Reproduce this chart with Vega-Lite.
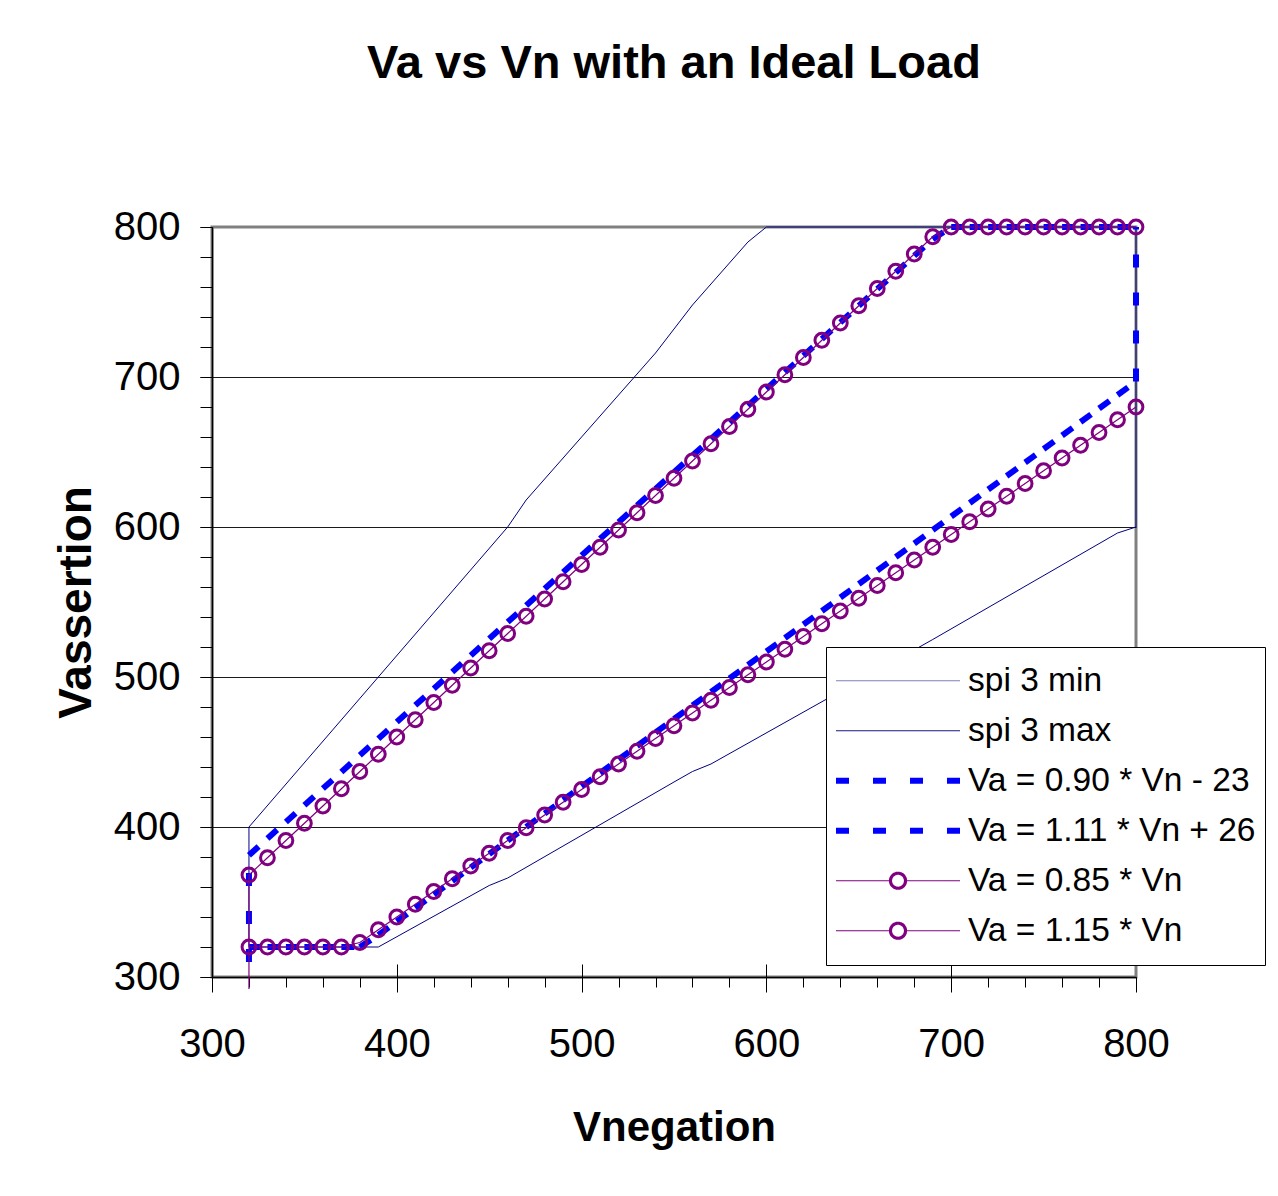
{
  "$schema": "https://vega.github.io/schema/vega-lite/v6.json",
  "autosize": {"type": "none"},
  "padding": {"left": 212, "top": 227, "right": 142, "bottom": 219},
  "width": 924,
  "height": 750,
  "background": "#ffffff",
  "title": {"text": "Va vs Vn with an Ideal Load", "fontSize": 47, "fontWeight": "bold", "anchor": "middle", "offset": 119, "color": "#000000"},
  "config": {
    "font": "Liberation Sans",
    "view": {"fill": "#ffffcc", "stroke": "#808080", "strokeWidth": 3},
    "axis": {"labelColor": "#000000", "titleColor": "#000000", "tickColor": "#000000", "domainColor": "#000000", "labelFlush": false, "labelOverlap": false}
  },
  "datasets": {
    "d": [
      {"series": "spi 3 min", "vn": 320, "va": 320},
      {"series": "spi 3 min", "vn": 390, "va": 320},
      {"series": "spi 3 min", "vn": 450, "va": 361},
      {"series": "spi 3 min", "vn": 460, "va": 366},
      {"series": "spi 3 min", "vn": 550, "va": 430},
      {"series": "spi 3 min", "vn": 560, "va": 437},
      {"series": "spi 3 min", "vn": 570, "va": 442},
      {"series": "spi 3 min", "vn": 690, "va": 525},
      {"series": "spi 3 min", "vn": 790, "va": 596},
      {"series": "spi 3 min", "vn": 800, "va": 600},
      {"series": "spi 3 min", "vn": 800, "va": 800},
      {"series": "spi 3 max", "vn": 320, "va": 320},
      {"series": "spi 3 max", "vn": 320, "va": 400},
      {"series": "spi 3 max", "vn": 390, "va": 500},
      {"series": "spi 3 max", "vn": 460, "va": 600},
      {"series": "spi 3 max", "vn": 470, "va": 618},
      {"series": "spi 3 max", "vn": 540, "va": 716},
      {"series": "spi 3 max", "vn": 560, "va": 748},
      {"series": "spi 3 max", "vn": 590, "va": 790},
      {"series": "spi 3 max", "vn": 600, "va": 800},
      {"series": "spi 3 max", "vn": 800, "va": 800},
      {"series": "Va = 0.90 * Vn - 23", "vn": 320, "va": 320},
      {"series": "Va = 0.90 * Vn - 23", "vn": 330, "va": 320},
      {"series": "Va = 0.90 * Vn - 23", "vn": 340, "va": 320},
      {"series": "Va = 0.90 * Vn - 23", "vn": 350, "va": 320},
      {"series": "Va = 0.90 * Vn - 23", "vn": 360, "va": 320},
      {"series": "Va = 0.90 * Vn - 23", "vn": 370, "va": 320},
      {"series": "Va = 0.90 * Vn - 23", "vn": 380, "va": 320},
      {"series": "Va = 0.90 * Vn - 23", "vn": 390, "va": 328},
      {"series": "Va = 0.90 * Vn - 23", "vn": 400, "va": 337},
      {"series": "Va = 0.90 * Vn - 23", "vn": 410, "va": 346},
      {"series": "Va = 0.90 * Vn - 23", "vn": 420, "va": 355},
      {"series": "Va = 0.90 * Vn - 23", "vn": 430, "va": 364},
      {"series": "Va = 0.90 * Vn - 23", "vn": 440, "va": 373},
      {"series": "Va = 0.90 * Vn - 23", "vn": 450, "va": 382},
      {"series": "Va = 0.90 * Vn - 23", "vn": 460, "va": 391},
      {"series": "Va = 0.90 * Vn - 23", "vn": 470, "va": 400},
      {"series": "Va = 0.90 * Vn - 23", "vn": 480, "va": 409},
      {"series": "Va = 0.90 * Vn - 23", "vn": 490, "va": 418},
      {"series": "Va = 0.90 * Vn - 23", "vn": 500, "va": 427},
      {"series": "Va = 0.90 * Vn - 23", "vn": 510, "va": 436},
      {"series": "Va = 0.90 * Vn - 23", "vn": 520, "va": 445},
      {"series": "Va = 0.90 * Vn - 23", "vn": 530, "va": 454},
      {"series": "Va = 0.90 * Vn - 23", "vn": 540, "va": 463},
      {"series": "Va = 0.90 * Vn - 23", "vn": 550, "va": 472},
      {"series": "Va = 0.90 * Vn - 23", "vn": 560, "va": 481},
      {"series": "Va = 0.90 * Vn - 23", "vn": 570, "va": 490},
      {"series": "Va = 0.90 * Vn - 23", "vn": 580, "va": 499},
      {"series": "Va = 0.90 * Vn - 23", "vn": 590, "va": 508},
      {"series": "Va = 0.90 * Vn - 23", "vn": 600, "va": 517},
      {"series": "Va = 0.90 * Vn - 23", "vn": 610, "va": 526},
      {"series": "Va = 0.90 * Vn - 23", "vn": 620, "va": 535},
      {"series": "Va = 0.90 * Vn - 23", "vn": 630, "va": 544},
      {"series": "Va = 0.90 * Vn - 23", "vn": 640, "va": 553},
      {"series": "Va = 0.90 * Vn - 23", "vn": 650, "va": 562},
      {"series": "Va = 0.90 * Vn - 23", "vn": 660, "va": 571},
      {"series": "Va = 0.90 * Vn - 23", "vn": 670, "va": 580},
      {"series": "Va = 0.90 * Vn - 23", "vn": 680, "va": 589},
      {"series": "Va = 0.90 * Vn - 23", "vn": 690, "va": 598},
      {"series": "Va = 0.90 * Vn - 23", "vn": 700, "va": 607},
      {"series": "Va = 0.90 * Vn - 23", "vn": 710, "va": 616},
      {"series": "Va = 0.90 * Vn - 23", "vn": 720, "va": 625},
      {"series": "Va = 0.90 * Vn - 23", "vn": 730, "va": 634},
      {"series": "Va = 0.90 * Vn - 23", "vn": 740, "va": 643},
      {"series": "Va = 0.90 * Vn - 23", "vn": 750, "va": 652},
      {"series": "Va = 0.90 * Vn - 23", "vn": 760, "va": 661},
      {"series": "Va = 0.90 * Vn - 23", "vn": 770, "va": 670},
      {"series": "Va = 0.90 * Vn - 23", "vn": 780, "va": 679},
      {"series": "Va = 0.90 * Vn - 23", "vn": 790, "va": 688},
      {"series": "Va = 0.90 * Vn - 23", "vn": 800, "va": 697},
      {"series": "Va = 0.90 * Vn - 23", "vn": 800, "va": 800},
      {"series": "Va = 1.11 * Vn + 26", "vn": 320, "va": 310},
      {"series": "Va = 1.11 * Vn + 26", "vn": 320, "va": 381.2},
      {"series": "Va = 1.11 * Vn + 26", "vn": 330, "va": 392.3},
      {"series": "Va = 1.11 * Vn + 26", "vn": 340, "va": 403.4},
      {"series": "Va = 1.11 * Vn + 26", "vn": 350, "va": 414.5},
      {"series": "Va = 1.11 * Vn + 26", "vn": 360, "va": 425.6},
      {"series": "Va = 1.11 * Vn + 26", "vn": 370, "va": 436.7},
      {"series": "Va = 1.11 * Vn + 26", "vn": 380, "va": 447.8},
      {"series": "Va = 1.11 * Vn + 26", "vn": 390, "va": 458.9},
      {"series": "Va = 1.11 * Vn + 26", "vn": 400, "va": 470},
      {"series": "Va = 1.11 * Vn + 26", "vn": 410, "va": 481.1},
      {"series": "Va = 1.11 * Vn + 26", "vn": 420, "va": 492.2},
      {"series": "Va = 1.11 * Vn + 26", "vn": 430, "va": 503.3},
      {"series": "Va = 1.11 * Vn + 26", "vn": 440, "va": 514.4},
      {"series": "Va = 1.11 * Vn + 26", "vn": 450, "va": 525.5},
      {"series": "Va = 1.11 * Vn + 26", "vn": 460, "va": 536.6},
      {"series": "Va = 1.11 * Vn + 26", "vn": 470, "va": 547.7},
      {"series": "Va = 1.11 * Vn + 26", "vn": 480, "va": 558.8},
      {"series": "Va = 1.11 * Vn + 26", "vn": 490, "va": 569.9},
      {"series": "Va = 1.11 * Vn + 26", "vn": 500, "va": 581},
      {"series": "Va = 1.11 * Vn + 26", "vn": 510, "va": 592.1},
      {"series": "Va = 1.11 * Vn + 26", "vn": 520, "va": 603.2},
      {"series": "Va = 1.11 * Vn + 26", "vn": 530, "va": 614.3},
      {"series": "Va = 1.11 * Vn + 26", "vn": 540, "va": 625.4},
      {"series": "Va = 1.11 * Vn + 26", "vn": 550, "va": 636.5},
      {"series": "Va = 1.11 * Vn + 26", "vn": 560, "va": 647.6},
      {"series": "Va = 1.11 * Vn + 26", "vn": 570, "va": 658.7},
      {"series": "Va = 1.11 * Vn + 26", "vn": 580, "va": 669.8},
      {"series": "Va = 1.11 * Vn + 26", "vn": 590, "va": 680.9},
      {"series": "Va = 1.11 * Vn + 26", "vn": 600, "va": 692},
      {"series": "Va = 1.11 * Vn + 26", "vn": 610, "va": 703.1},
      {"series": "Va = 1.11 * Vn + 26", "vn": 620, "va": 714.2},
      {"series": "Va = 1.11 * Vn + 26", "vn": 630, "va": 725.3},
      {"series": "Va = 1.11 * Vn + 26", "vn": 640, "va": 736.4},
      {"series": "Va = 1.11 * Vn + 26", "vn": 650, "va": 747.5},
      {"series": "Va = 1.11 * Vn + 26", "vn": 660, "va": 758.6},
      {"series": "Va = 1.11 * Vn + 26", "vn": 670, "va": 769.7},
      {"series": "Va = 1.11 * Vn + 26", "vn": 680, "va": 780.8},
      {"series": "Va = 1.11 * Vn + 26", "vn": 690, "va": 791.9},
      {"series": "Va = 1.11 * Vn + 26", "vn": 700, "va": 800},
      {"series": "Va = 1.11 * Vn + 26", "vn": 710, "va": 800},
      {"series": "Va = 1.11 * Vn + 26", "vn": 720, "va": 800},
      {"series": "Va = 1.11 * Vn + 26", "vn": 730, "va": 800},
      {"series": "Va = 1.11 * Vn + 26", "vn": 740, "va": 800},
      {"series": "Va = 1.11 * Vn + 26", "vn": 750, "va": 800},
      {"series": "Va = 1.11 * Vn + 26", "vn": 760, "va": 800},
      {"series": "Va = 1.11 * Vn + 26", "vn": 770, "va": 800},
      {"series": "Va = 1.11 * Vn + 26", "vn": 780, "va": 800},
      {"series": "Va = 1.11 * Vn + 26", "vn": 790, "va": 800},
      {"series": "Va = 1.11 * Vn + 26", "vn": 800, "va": 800},
      {"series": "Va = 0.85 * Vn", "vn": 320, "va": 320},
      {"series": "Va = 0.85 * Vn", "vn": 330, "va": 320},
      {"series": "Va = 0.85 * Vn", "vn": 340, "va": 320},
      {"series": "Va = 0.85 * Vn", "vn": 350, "va": 320},
      {"series": "Va = 0.85 * Vn", "vn": 360, "va": 320},
      {"series": "Va = 0.85 * Vn", "vn": 370, "va": 320},
      {"series": "Va = 0.85 * Vn", "vn": 380, "va": 323},
      {"series": "Va = 0.85 * Vn", "vn": 390, "va": 331.5},
      {"series": "Va = 0.85 * Vn", "vn": 400, "va": 340},
      {"series": "Va = 0.85 * Vn", "vn": 410, "va": 348.5},
      {"series": "Va = 0.85 * Vn", "vn": 420, "va": 357},
      {"series": "Va = 0.85 * Vn", "vn": 430, "va": 365.5},
      {"series": "Va = 0.85 * Vn", "vn": 440, "va": 374},
      {"series": "Va = 0.85 * Vn", "vn": 450, "va": 382.5},
      {"series": "Va = 0.85 * Vn", "vn": 460, "va": 391},
      {"series": "Va = 0.85 * Vn", "vn": 470, "va": 399.5},
      {"series": "Va = 0.85 * Vn", "vn": 480, "va": 408},
      {"series": "Va = 0.85 * Vn", "vn": 490, "va": 416.5},
      {"series": "Va = 0.85 * Vn", "vn": 500, "va": 425},
      {"series": "Va = 0.85 * Vn", "vn": 510, "va": 433.5},
      {"series": "Va = 0.85 * Vn", "vn": 520, "va": 442},
      {"series": "Va = 0.85 * Vn", "vn": 530, "va": 450.5},
      {"series": "Va = 0.85 * Vn", "vn": 540, "va": 459},
      {"series": "Va = 0.85 * Vn", "vn": 550, "va": 467.5},
      {"series": "Va = 0.85 * Vn", "vn": 560, "va": 476},
      {"series": "Va = 0.85 * Vn", "vn": 570, "va": 484.5},
      {"series": "Va = 0.85 * Vn", "vn": 580, "va": 493},
      {"series": "Va = 0.85 * Vn", "vn": 590, "va": 501.5},
      {"series": "Va = 0.85 * Vn", "vn": 600, "va": 510},
      {"series": "Va = 0.85 * Vn", "vn": 610, "va": 518.5},
      {"series": "Va = 0.85 * Vn", "vn": 620, "va": 527},
      {"series": "Va = 0.85 * Vn", "vn": 630, "va": 535.5},
      {"series": "Va = 0.85 * Vn", "vn": 640, "va": 544},
      {"series": "Va = 0.85 * Vn", "vn": 650, "va": 552.5},
      {"series": "Va = 0.85 * Vn", "vn": 660, "va": 561},
      {"series": "Va = 0.85 * Vn", "vn": 670, "va": 569.5},
      {"series": "Va = 0.85 * Vn", "vn": 680, "va": 578},
      {"series": "Va = 0.85 * Vn", "vn": 690, "va": 586.5},
      {"series": "Va = 0.85 * Vn", "vn": 700, "va": 595},
      {"series": "Va = 0.85 * Vn", "vn": 710, "va": 603.5},
      {"series": "Va = 0.85 * Vn", "vn": 720, "va": 612},
      {"series": "Va = 0.85 * Vn", "vn": 730, "va": 620.5},
      {"series": "Va = 0.85 * Vn", "vn": 740, "va": 629},
      {"series": "Va = 0.85 * Vn", "vn": 750, "va": 637.5},
      {"series": "Va = 0.85 * Vn", "vn": 760, "va": 646},
      {"series": "Va = 0.85 * Vn", "vn": 770, "va": 654.5},
      {"series": "Va = 0.85 * Vn", "vn": 780, "va": 663},
      {"series": "Va = 0.85 * Vn", "vn": 790, "va": 671.5},
      {"series": "Va = 0.85 * Vn", "vn": 800, "va": 680},
      {"series": "Va = 1.15 * Vn", "vn": 320, "va": 292},
      {"series": "Va = 1.15 * Vn", "vn": 320, "va": 368},
      {"series": "Va = 1.15 * Vn", "vn": 330, "va": 379.5},
      {"series": "Va = 1.15 * Vn", "vn": 340, "va": 391},
      {"series": "Va = 1.15 * Vn", "vn": 350, "va": 402.5},
      {"series": "Va = 1.15 * Vn", "vn": 360, "va": 414},
      {"series": "Va = 1.15 * Vn", "vn": 370, "va": 425.5},
      {"series": "Va = 1.15 * Vn", "vn": 380, "va": 437},
      {"series": "Va = 1.15 * Vn", "vn": 390, "va": 448.5},
      {"series": "Va = 1.15 * Vn", "vn": 400, "va": 460},
      {"series": "Va = 1.15 * Vn", "vn": 410, "va": 471.5},
      {"series": "Va = 1.15 * Vn", "vn": 420, "va": 483},
      {"series": "Va = 1.15 * Vn", "vn": 430, "va": 494.5},
      {"series": "Va = 1.15 * Vn", "vn": 440, "va": 506},
      {"series": "Va = 1.15 * Vn", "vn": 450, "va": 517.5},
      {"series": "Va = 1.15 * Vn", "vn": 460, "va": 529},
      {"series": "Va = 1.15 * Vn", "vn": 470, "va": 540.5},
      {"series": "Va = 1.15 * Vn", "vn": 480, "va": 552},
      {"series": "Va = 1.15 * Vn", "vn": 490, "va": 563.5},
      {"series": "Va = 1.15 * Vn", "vn": 500, "va": 575},
      {"series": "Va = 1.15 * Vn", "vn": 510, "va": 586.5},
      {"series": "Va = 1.15 * Vn", "vn": 520, "va": 598},
      {"series": "Va = 1.15 * Vn", "vn": 530, "va": 609.5},
      {"series": "Va = 1.15 * Vn", "vn": 540, "va": 621},
      {"series": "Va = 1.15 * Vn", "vn": 550, "va": 632.5},
      {"series": "Va = 1.15 * Vn", "vn": 560, "va": 644},
      {"series": "Va = 1.15 * Vn", "vn": 570, "va": 655.5},
      {"series": "Va = 1.15 * Vn", "vn": 580, "va": 667},
      {"series": "Va = 1.15 * Vn", "vn": 590, "va": 678.5},
      {"series": "Va = 1.15 * Vn", "vn": 600, "va": 690},
      {"series": "Va = 1.15 * Vn", "vn": 610, "va": 701.5},
      {"series": "Va = 1.15 * Vn", "vn": 620, "va": 713},
      {"series": "Va = 1.15 * Vn", "vn": 630, "va": 724.5},
      {"series": "Va = 1.15 * Vn", "vn": 640, "va": 736},
      {"series": "Va = 1.15 * Vn", "vn": 650, "va": 747.5},
      {"series": "Va = 1.15 * Vn", "vn": 660, "va": 759},
      {"series": "Va = 1.15 * Vn", "vn": 670, "va": 770.5},
      {"series": "Va = 1.15 * Vn", "vn": 680, "va": 782},
      {"series": "Va = 1.15 * Vn", "vn": 690, "va": 793.5},
      {"series": "Va = 1.15 * Vn", "vn": 700, "va": 800},
      {"series": "Va = 1.15 * Vn", "vn": 710, "va": 800},
      {"series": "Va = 1.15 * Vn", "vn": 720, "va": 800},
      {"series": "Va = 1.15 * Vn", "vn": 730, "va": 800},
      {"series": "Va = 1.15 * Vn", "vn": 740, "va": 800},
      {"series": "Va = 1.15 * Vn", "vn": 750, "va": 800},
      {"series": "Va = 1.15 * Vn", "vn": 760, "va": 800},
      {"series": "Va = 1.15 * Vn", "vn": 770, "va": 800},
      {"series": "Va = 1.15 * Vn", "vn": 780, "va": 800},
      {"series": "Va = 1.15 * Vn", "vn": 790, "va": 800},
      {"series": "Va = 1.15 * Vn", "vn": 800, "va": 800}
    ]
  },
  "data": {"name": "d"},
  "resolve": {"axis": {"x": "independent", "y": "independent"}},
  "layer": [
    {
      "transform": [{"filter": {"field": "series", "oneOf": ["spi 3 min", "spi 3 max"]}}],
      "mark": {"type": "line", "color": "#000080", "strokeWidth": 1},
      "encoding": {
        "x": {"field": "vn", "type": "quantitative", "scale": {"domain": [300, 800], "nice": false, "zero": false},
          "axis": {"orient": "bottom", "values": [300, 400, 500, 600, 700, 800], "title": "Vnegation", "titleFontSize": 42, "titleFontWeight": "bold", "titlePadding": 43, "labelFontSize": 40, "labelPadding": 32, "tickSize": 15, "domainWidth": 1.5, "grid": false}},
        "y": {"field": "va", "type": "quantitative", "scale": {"domain": [300, 800], "nice": false, "zero": false},
          "axis": {"orient": "left", "values": [300, 400, 500, 600, 700, 800], "title": "Vassertion", "titleFontSize": 46, "titleFontWeight": "bold", "titlePadding": 13, "labelFontSize": 40, "labelPadding": 20, "tickSize": 12, "domainWidth": 1.5, "grid": false}},
        "detail": {"field": "series", "type": "nominal"},
        "order": {"value": null}
      }
    },
    {
      "transform": [
        {"filter": {"field": "series", "oneOf": ["Va = 0.90 * Vn - 23", "Va = 1.11 * Vn + 26"]}},
        {"window": [{"op": "lead", "field": "vn", "as": "vn2"}, {"op": "lead", "field": "va", "as": "va2"}], "groupby": ["series"]},
        {"filter": "datum.vn2 != null"}
      ],
      "mark": {"type": "rule", "color": "#0000ff", "strokeWidth": 6, "strokeDash": [13, 25], "strokeCap": "butt"},
      "encoding": {
        "x": {"field": "vn", "type": "quantitative", "scale": {"domain": [300, 800], "nice": false, "zero": false},
          "axis": {"orient": "bottom", "values": [300, 320, 340, 360, 380, 400, 420, 440, 460, 480, 500, 520, 540, 560, 580, 600, 620, 640, 660, 680, 700, 720, 740, 760, 780, 800], "tickSize": 10, "labels": false, "domain": false, "grid": false, "title": null}},
        "y": {"field": "va", "type": "quantitative", "scale": {"domain": [300, 800], "nice": false, "zero": false},
          "axis": {"orient": "left", "values": [300, 320, 340, 360, 380, 400, 420, 440, 460, 480, 500, 520, 540, 560, 580, 600, 620, 640, 660, 680, 700, 720, 740, 760, 780, 800], "tickSize": 12, "labels": false, "domain": false, "grid": false, "title": null}},
        "x2": {"field": "vn2"},
        "y2": {"field": "va2"}
      }
    },
    {
      "transform": [{"filter": {"field": "series", "oneOf": ["Va = 0.85 * Vn", "Va = 1.15 * Vn"]}}],
      "mark": {"type": "line", "color": "#800080", "strokeWidth": 1.2},
      "encoding": {
        "x": {"field": "vn", "type": "quantitative", "scale": {"domain": [300, 800], "nice": false, "zero": false},
          "axis": {"orient": "bottom", "values": [400, 500, 600, 700], "tickSize": -13, "labels": false, "domain": false, "grid": false, "title": null}},
        "y": {"field": "va", "type": "quantitative", "scale": {"domain": [300, 800], "nice": false, "zero": false},
          "axis": {"orient": "left", "values": [400, 500, 600, 700], "grid": true, "gridColor": "#1a1a1a", "gridWidth": 1, "ticks": false, "labels": false, "domain": false, "title": null}},
        "detail": {"field": "series", "type": "nominal"},
        "order": {"value": null}
      }
    },
    {
      "transform": [{"filter": {"field": "series", "oneOf": ["Va = 0.85 * Vn", "Va = 1.15 * Vn"]}}, {"filter": "datum.va >= 300"}],
      "mark": {"type": "point", "shape": "circle", "filled": false, "color": "#800080", "strokeWidth": 3, "size": 190, "opacity": 1},
      "encoding": {
        "x": {"field": "vn", "type": "quantitative", "scale": {"domain": [300, 800], "nice": false, "zero": false}, "axis": null},
        "y": {"field": "va", "type": "quantitative", "scale": {"domain": [300, 800], "nice": false, "zero": false}, "axis": null}
      }
    },
    {
      "transform": [{"filter": "false"}],
      "mark": {"type": "point", "filled": false, "opacity": 1},
      "encoding": {
        "color": {"field": "series", "type": "nominal",
          "scale": {"domain": ["spi 3 min", "spi 3 max", "Va = 0.90 * Vn - 23", "Va = 1.11 * Vn + 26", "Va = 0.85 * Vn", "Va = 1.15 * Vn"],
            "range": ["#7f7fc0", "#1a1a86", "#0000ff", "#0000ff", "#800080", "#800080"]},
          "legend": {"orient": "none", "legendX": 614, "legendY": 420, "direction": "vertical", "title": null, "fillColor": "#ffffff", "strokeColor": "#000000", "padding": 9, "labelFontSize": 33.5, "labelColor": "#000000", "labelOffset": 7, "labelLimit": 500, "symbolOffset": 0, "symbolSize": 15376, "symbolStrokeWidth": 1.2, "clipHeight": 49.5, "rowPadding": 0}},
        "shape": {"field": "series", "type": "nominal",
          "scale": {"domain": ["spi 3 min", "spi 3 max", "Va = 0.90 * Vn - 23", "Va = 1.11 * Vn + 26", "Va = 0.85 * Vn", "Va = 1.15 * Vn"],
            "range": ["M-1,0H1", "M-1,0H1",
              "M-1,-0.0387H1M-1,-0.0194H1M-1,0H1M-1,0.0194H1M-1,0.0387H1",
              "M-1,-0.0387H1M-1,-0.0194H1M-1,0H1M-1,0.0194H1M-1,0.0387H1",
              "M-1,0H-0.145M0.145,0H1M0.137,0A0.137,0.137,0,1,1,-0.137,0A0.137,0.137,0,1,1,0.137,0M0.121,0A0.121,0.121,0,1,1,-0.121,0A0.121,0.121,0,1,1,0.121,0M0.105,0A0.105,0.105,0,1,1,-0.105,0A0.105,0.105,0,1,1,0.105,0",
              "M-1,0H-0.145M0.145,0H1M0.137,0A0.137,0.137,0,1,1,-0.137,0A0.137,0.137,0,1,1,0.137,0M0.121,0A0.121,0.121,0,1,1,-0.121,0A0.121,0.121,0,1,1,0.121,0M0.105,0A0.105,0.105,0,1,1,-0.105,0A0.105,0.105,0,1,1,0.105,0"]}},
        "strokeDash": {"field": "series", "type": "nominal",
          "scale": {"domain": ["spi 3 min", "spi 3 max", "Va = 0.90 * Vn - 23", "Va = 1.11 * Vn + 26", "Va = 0.85 * Vn", "Va = 1.15 * Vn"],
            "range": [[1, 0], [1, 0], [13, 24], [13, 24], [1, 0], [1, 0]]}}
      }
    }
  ]
}
